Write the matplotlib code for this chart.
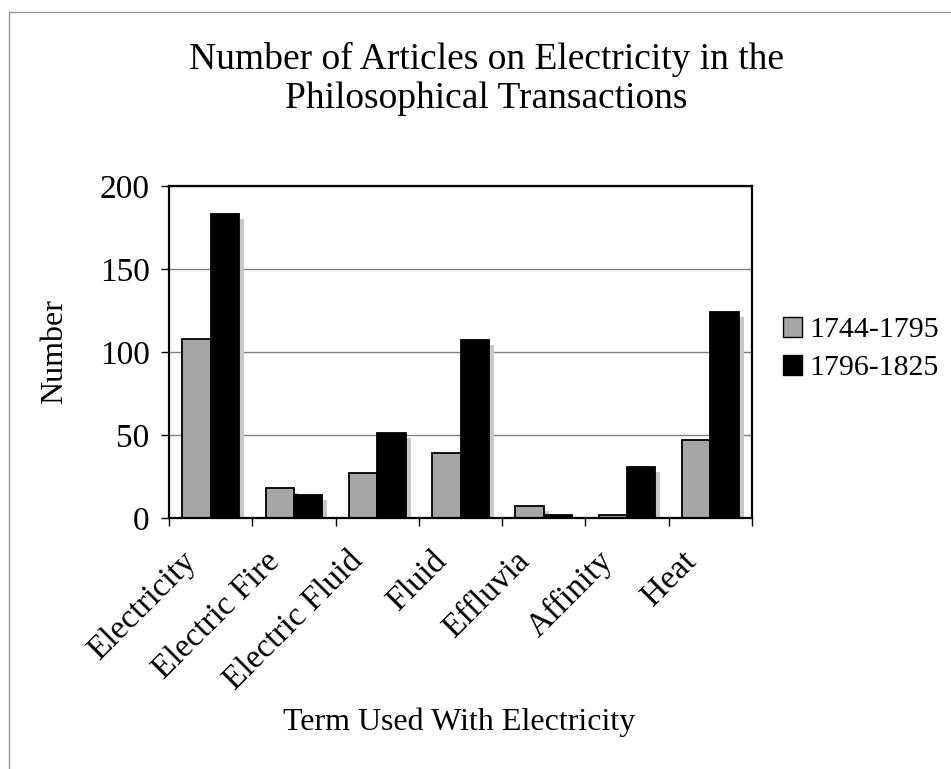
import numpy as np
import matplotlib.pyplot as plt
from matplotlib.lines import Line2D
from matplotlib.patches import Patch
from matplotlib.transforms import ScaledTranslation

plt.rcParams['font.family'] = ['Liberation Serif', 'DejaVu Serif']

# Data
terms = ['Electricity', 'Electric Fire', 'Electric Fluid', 'Fluid',
         'Effluvia', 'Affinity', 'Heat']
early = [108, 18, 27, 39, 7, 2, 47]      # 1744-1795
late = [183, 14, 51, 107, 2, 31, 124]    # 1796-1825
periods = ['1744-1795', '1796-1825']
yticks = [0, 50, 100, 150, 200]

fig = plt.figure(figsize=(9.51, 7.69), dpi=100)
ax = fig.add_axes([169 / 951, 1 - 518 / 769, 583 / 951, 332 / 769])

x = np.arange(len(terms))
w = 0.34
shadow_dx = 0.06
shadow_dy = 3

# Drop shadows behind the bars
for vals, off in [(early, -w / 2), (late, w / 2)]:
    sh = [max(v - shadow_dy, 0) for v in vals]
    ax.bar(x + off + shadow_dx, sh, w, color='#c8c8c8', linewidth=0, zorder=1)

ax.bar(x - w / 2, early, w, color='#a6a6a6', edgecolor='black', linewidth=1.3, zorder=2)
ax.bar(x + w / 2, late, w, color='black', edgecolor='black', linewidth=1.3, zorder=2)

ax.set_xlim(-0.5, len(terms) - 0.5)
ax.set_ylim(0, 200)
ax.set_yticks(yticks)
ax.yaxis.grid(True, color='#808080', linewidth=1.0)
ax.set_axisbelow(True)
for s in ax.spines.values():
    s.set_linewidth(1.6)

ax.tick_params(axis='y', labelsize=24, length=6, width=1, direction='out', pad=8)
ax.set_xticks(x)
ax.set_xticklabels(terms, rotation=45, ha='right', va='top', fontsize=24)
ax.tick_params(axis='x', which='major', length=0, pad=20)
ax.set_xticks(np.arange(-0.5, len(terms)), minor=True)
ax.tick_params(axis='x', which='minor', length=6, width=1, direction='out')
for lbl in ax.get_xticklabels():
    lbl.set_transform(lbl.get_transform() + ScaledTranslation(-8 / 100, 0, fig.dpi_scale_trans))

ax.set_ylabel('Number', fontsize=23, labelpad=22)
fig.text(459 / 951, 1 - 722 / 769, 'Term Used With Electricity', fontsize=23,
         ha='center', va='center')
fig.text(486 / 951, 1 - 79 / 769, 'Number of Articles on Electricity in the\nPhilosophical Transactions',
         fontsize=27, ha='center', va='center', linespacing=1.2)

handles = [Patch(facecolor='#a6a6a6', edgecolor='black', linewidth=1),
           Patch(facecolor='black', edgecolor='black', linewidth=1)]
fig.legend(handles, periods, loc='center left', bbox_to_anchor=(771 / 951, 1 - 349 / 769),
           frameon=False, fontsize=21.5, handlelength=0.65, handleheight=0.65,
           handletextpad=0.25, labelspacing=0.4, borderaxespad=0)

# Page border (top and left edges)
fig.add_artist(Line2D([9 / 951, 1], [1 - 12 / 769, 1 - 12 / 769], color='#999999', linewidth=1))
fig.add_artist(Line2D([9 / 951, 9 / 951], [0, 1 - 12 / 769], color='#999999', linewidth=1))

fig.savefig('out.png', dpi=100)
